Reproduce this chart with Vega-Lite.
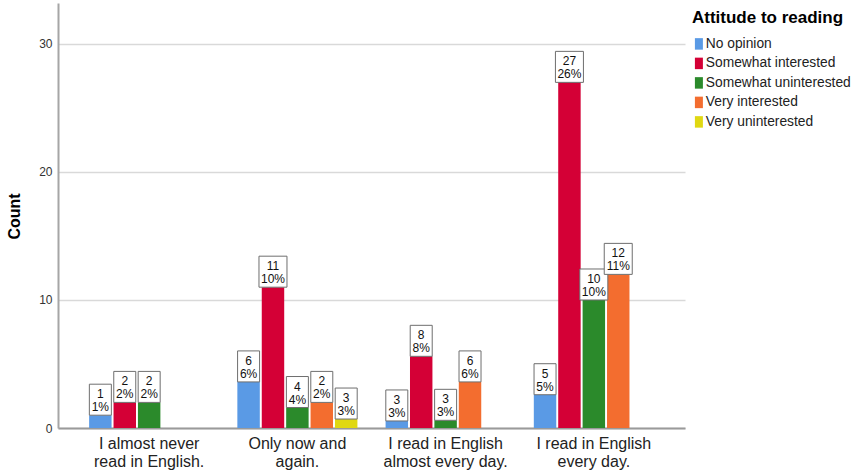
{
  "$schema": "https://vega.github.io/schema/vega-lite/v6.json",
  "width": 627,
  "height": 425,
  "autosize": {"type": "none"},
  "padding": {"left": 58, "top": 3, "right": 169, "bottom": 45},
  "background": "white",
  "config": {"view": {"stroke": null}, "font": "Liberation Sans"},
  "data": {
    "values": [
      {"reading": "I almost never read in English.", "attitude": "No opinion", "value": 1.0, "count": "1", "percent": "1%"},
      {"reading": "I almost never read in English.", "attitude": "Somewhat interested", "value": 2.0, "count": "2", "percent": "2%"},
      {"reading": "I almost never read in English.", "attitude": "Somewhat uninterested", "value": 2.0, "count": "2", "percent": "2%"},
      {"reading": "Only now and again.", "attitude": "No opinion", "value": 3.6, "count": "6", "percent": "6%"},
      {"reading": "Only now and again.", "attitude": "Somewhat interested", "value": 11.0, "count": "11", "percent": "10%"},
      {"reading": "Only now and again.", "attitude": "Somewhat uninterested", "value": 1.6, "count": "4", "percent": "4%"},
      {"reading": "Only now and again.", "attitude": "Very interested", "value": 2.0, "count": "2", "percent": "2%"},
      {"reading": "Only now and again.", "attitude": "Very uninterested", "value": 0.7, "count": "3", "percent": "3%"},
      {"reading": "I read in English almost every day.", "attitude": "No opinion", "value": 0.55, "count": "3", "percent": "3%"},
      {"reading": "I read in English almost every day.", "attitude": "Somewhat interested", "value": 5.6, "count": "8", "percent": "8%"},
      {"reading": "I read in English almost every day.", "attitude": "Somewhat uninterested", "value": 0.6, "count": "3", "percent": "3%"},
      {"reading": "I read in English almost every day.", "attitude": "Very interested", "value": 3.6, "count": "6", "percent": "6%"},
      {"reading": "I read in English every day.", "attitude": "No opinion", "value": 2.6, "count": "5", "percent": "5%"},
      {"reading": "I read in English every day.", "attitude": "Somewhat interested", "value": 27.0, "count": "27", "percent": "26%"},
      {"reading": "I read in English every day.", "attitude": "Somewhat uninterested", "value": 10.0, "count": "10", "percent": "10%"},
      {"reading": "I read in English every day.", "attitude": "Very interested", "value": 12.0, "count": "12", "percent": "11%"}
    ]
  },
  "encoding": {
    "x": {
      "field": "reading",
      "type": "nominal",
      "sort": ["I almost never read in English.", "Only now and again.", "I read in English almost every day.", "I read in English every day."],
      "scale": {"paddingInner": 0.19, "paddingOuter": 0.21},
      "axis": {
        "title": null,
        "labelAngle": 0,
        "ticks": false,
        "domainColor": "#9a9a9a",
        "domainWidth": 2,
        "labelFontSize": 16,
        "labelColor": "#222222",
        "labelPadding": 7,
        "labelLineHeight": 18,
        "labelBaseline": "top",
        "labelLimit": 0,
        "labelExpr": "datum.value == 'I almost never read in English.' ? ['I almost never', 'read in English.'] : datum.value == 'Only now and again.' ? ['Only now and', 'again.'] : datum.value == 'I read in English almost every day.' ? ['I read in English', 'almost every day.'] : ['I read in English', 'every day.']"
      }
    },
    "xOffset": {
      "field": "attitude",
      "type": "nominal",
      "scale": {
        "domain": ["No opinion", "Somewhat interested", "Somewhat uninterested", "Very interested", "Very uninterested"],
        "paddingInner": 0.08,
        "paddingOuter": 0
      }
    },
    "y": {
      "field": "value",
      "type": "quantitative",
      "scale": {"domain": [0, 33.2], "nice": false},
      "axis": {
        "title": "Count",
        "values": [0, 10, 20, 30],
        "grid": true,
        "gridColor": "#d9d9d9",
        "gridWidth": 1.5,
        "domainColor": "#a6a6a6",
        "domainWidth": 2,
        "ticks": false,
        "labelFontSize": 12,
        "labelColor": "#333333",
        "labelPadding": 6,
        "titleFontSize": 16,
        "titleFontWeight": "bold",
        "titleColor": "#000000",
        "titleAngle": -90,
        "titleX": -44,
        "titleY": 213,
        "titleAlign": "center",
        "titleBaseline": "middle"
      }
    }
  },
  "layer": [
    {
      "mark": {"type": "bar"},
      "encoding": {
        "color": {
          "field": "attitude",
          "type": "nominal",
          "scale": {
            "domain": ["No opinion", "Somewhat interested", "Somewhat uninterested", "Very interested", "Very uninterested"],
            "range": ["#5a9ae5", "#d40036", "#2b8a2b", "#f36d2f", "#e0d812"]
          },
          "legend": {
            "orient": "none",
            "legendX": 634,
            "legendY": 7,
            "title": "Attitude to reading",
            "titleFontSize": 17,
            "titleFontWeight": "bold",
            "titleColor": "#000000",
            "titlePadding": 10,
            "labelFontSize": 13.8,
            "labelColor": "#222222",
            "symbolType": "M-0.8,-1.15H0.8V1.15H-0.8Z",
            "symbolSize": 100,
            "symbolStrokeWidth": 0,
            "rowPadding": 4.5,
            "labelOffset": 0,
            "labelLimit": 0,
            "padding": 0
          }
        }
      }
    },
    {
      "mark": {"type": "point", "size": 1024, "filled": true, "fill": "white", "stroke": "#6e6e6e", "strokeWidth": 1, "opacity": 1},
      "encoding": {
        "shape": {
          "condition": {"test": "length(datum.percent) > 2", "value": "M-0.875,-1.9375H0.875V0H-0.875Z"},
          "value": "M-0.6875,-1.9375H0.6875V0H-0.6875Z"
        }
      }
    },
    {
      "mark": {"type": "text", "dy": -17, "baseline": "alphabetic", "fontSize": 12, "color": "#111111"},
      "encoding": {"text": {"field": "count"}}
    },
    {
      "mark": {"type": "text", "dy": -4, "baseline": "alphabetic", "fontSize": 12, "color": "#111111"},
      "encoding": {"text": {"field": "percent"}}
    }
  ]
}
